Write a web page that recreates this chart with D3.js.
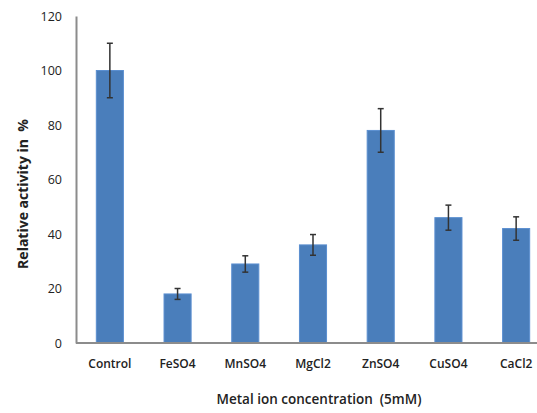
<!DOCTYPE html>
<html><head><meta charset="utf-8">
<script src="https://cdn.jsdelivr.net/npm/d3@7"></script>
<style>body{margin:0;background:#fff}svg{display:block}text{font-family:"Open Sans","Liberation Sans",sans-serif;fill:#222}</style>
</head><body><svg id="c" width="537" height="413"></svg>
<script>
const categories = ["Control","FeSO4","MnSO4","MgCl2","ZnSO4","CuSO4","CaCl2"];
const values = [100,18,29,36,78,46,42];
const errors = [10,2,3,3.8,8,4.6,4.3];
const yTicks = [0,20,40,60,80,100,120];

const svg = d3.select("#c");
const x0 = 76, x1 = 550, yTop = 16, yBot = 343;
const x = d3.scaleBand().domain(categories).range([x0, x1]).paddingInner(0.6).paddingOuter(0.3);
const y = d3.scaleLinear().domain([0,120]).range([yBot, yTop]);

const data = categories.map((c,i)=>({c, v: values[i], e: errors[i]}));

// bars
svg.append("g").selectAll("rect").data(data).join("rect")
  .attr("x", d=>x(d.c)).attr("width", x.bandwidth())
  .attr("y", d=>y(d.v)).attr("height", d=>y(0)-y(d.v))
  .attr("fill","#4a7ebb").attr("stroke","#5b8fd0").attr("stroke-width",1);

// y axis
const ya = svg.append("g").attr("transform",`translate(${x0},0)`)
  .call(d3.axisLeft(y).tickValues(yTicks).tickSize(0).tickPadding(14));
ya.select(".domain").attr("stroke","#8c8c8c").attr("stroke-width",2);
ya.selectAll("text").attr("font-size","12.5px").style("fill","#222");

// x axis
const xa = svg.append("g").attr("transform",`translate(0,${yBot})`)
  .call(d3.axisBottom(x).tickSize(0).tickPadding(16));
xa.select(".domain").attr("stroke","#8c8c8c").attr("stroke-width",2).attr("d",`M${x0},0H${x1}`);
xa.selectAll("text").attr("font-size","12px").style("fill","#222").attr("font-weight","600");

// error bars
const eb = svg.append("g").attr("stroke","#333").attr("stroke-width",1.5);
data.forEach(d=>{
  const cx = x(d.c)+x.bandwidth()/2;
  eb.append("line").attr("x1",cx).attr("x2",cx).attr("y1",y(d.v+d.e)).attr("y2",y(d.v-d.e));
  eb.append("line").attr("x1",cx-3).attr("x2",cx+3).attr("y1",y(d.v+d.e)).attr("y2",y(d.v+d.e));
  eb.append("line").attr("x1",cx-3).attr("x2",cx+3).attr("y1",y(d.v-d.e)).attr("y2",y(d.v-d.e));
});

// titles
svg.append("text").attr("transform","translate(28,194) rotate(-90)")
  .attr("text-anchor","middle").attr("font-size","14px").attr("font-weight","bold")
  .style("white-space","pre").text("Relative activity in  %");
svg.append("text").attr("x",319).attr("y",404).attr("text-anchor","middle")
  .attr("font-size","13.5px").attr("font-weight","600").style("white-space","pre").text("Metal ion concentration  (5mM)");
</script></body></html>
